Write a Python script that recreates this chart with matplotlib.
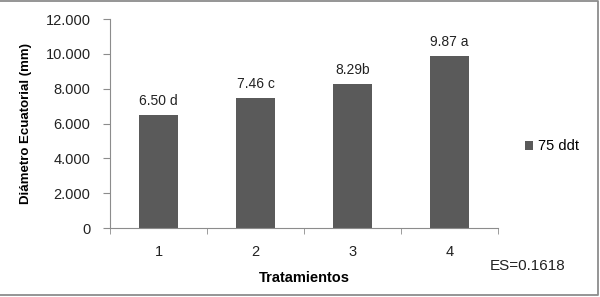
import numpy as np
import matplotlib.pyplot as plt
from matplotlib.lines import Line2D

plt.rcParams['font.family'] = ['Liberation Sans', 'DejaVu Sans']

tratamientos = ['1', '2', '3', '4']
diametro = [6.50, 7.46, 8.29, 9.87]
etiquetas = ['6.50 d', '7.46 c', '8.29b', '9.87 a']
yticks = [0, 2, 4, 6, 8, 10, 12]
ytick_labels = ['0', '2.000', '4.000', '6.000', '8.000', '10.000', '12.000']

bar_color = '#5a5a5a'
axis_color = '#8c8c8c'
text_color = '#222222'

fig = plt.figure(figsize=(6, 2.97), dpi=100)
ax = fig.add_axes([0.1833, 0.2323, 0.6467, 0.7037])

x = np.arange(len(tratamientos))
ax.bar(x, diametro, width=0.4, color=bar_color, label='75 ddt', zorder=2)

for xi, v, lab in zip(x, diametro, etiquetas):
    ax.annotate(lab, (xi, v), xytext=(0, 5), textcoords='offset points',
                ha='center', va='bottom', fontsize=10, color=text_color)

ax.set_xlim(-0.5, len(tratamientos) - 0.5)
ax.set_ylim(0, 12)
ax.set_yticks(yticks)
ax.set_yticklabels(ytick_labels)
ax.set_xticks(x)
ax.set_xticklabels(tratamientos)
ax.set_xticks(np.arange(-0.5, len(tratamientos)), minor=True)
ax.tick_params(axis='x', which='major', length=0, pad=12, labelsize=10.5, labelcolor=text_color)
ax.tick_params(axis='x', which='minor', length=4, color=axis_color, direction='out')
ax.tick_params(axis='y', length=5, color=axis_color, labelsize=10.5, labelcolor=text_color, pad=9)

for side in ['top', 'right']:
    ax.spines[side].set_visible(False)
for side in ['left', 'bottom']:
    ax.spines[side].set_color(axis_color)

ax.set_xlabel('Tratamientos', fontsize=10.5, fontweight='bold', labelpad=9)
ax.set_ylabel('Diámetro Ecuatorial (mm)', fontsize=9.5, fontweight='bold', labelpad=10)

ax.legend(loc='center left', bbox_to_anchor=(1.035, 0.39), frameon=False,
          fontsize=10.5, handlelength=0.55, handleheight=0.55, handletextpad=0.35)

fig.text(0.817, 0.09, 'ES=0.1618', fontsize=11, color=text_color)

# marco del gráfico (sin borde izquierdo, recortado en el original)
bx = [0.0, 0.996, 0.996, 0.0]
by = [0.998, 0.998, 0.006, 0.006]
fig.add_artist(Line2D(bx, by, transform=fig.transFigure, color='#8c8c8c', linewidth=1.3))

fig.savefig('out.png', dpi=100)
